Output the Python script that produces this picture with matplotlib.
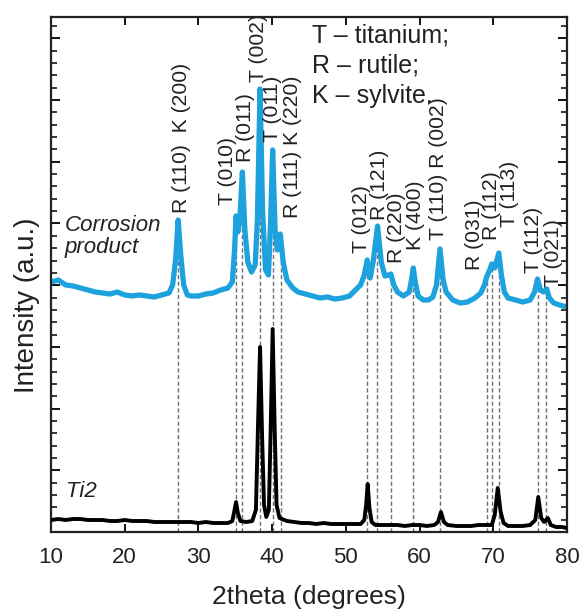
import numpy as np
import matplotlib
matplotlib.use("Agg")
import matplotlib.pyplot as plt
from matplotlib.ticker import MultipleLocator

plt.rcParams['font.family'] = ['Liberation Sans', 'DejaVu Sans']
plt.rcParams['lines.scale_dashes'] = False

# ---------------- data ----------------
blue_x = [10.0, 11.0, 12.0, 13.0, 14.0, 15.0, 16.0, 17.0, 18.0, 19.0, 20.0, 21.0, 22.0, 23.0, 24.0,
          25.0, 26.0, 26.5, 26.9, 27.25, 27.6, 28.0, 28.5, 29.0, 30.0, 31.0, 32.0, 33.0, 34.0,
          34.6, 34.9, 35.1, 35.35, 35.6, 35.96, 36.3, 36.7, 37.2, 37.7, 38.0, 38.36, 38.7, 39.1,
          39.5, 39.8, 40.07, 40.4, 40.7, 41.1, 41.5, 42.0, 42.8, 43.5, 44.5, 45.5, 46.5, 47.5,
          48.5, 49.5, 50.5, 51.3, 52.0, 52.5, 52.9, 53.3, 53.7, 54.3, 54.8, 55.3, 55.8, 56.1,
          56.5, 57.0, 57.8, 58.6, 58.9, 59.15, 59.4, 59.8, 60.5, 61.2, 61.8, 62.3, 62.77, 63.2,
          63.6, 64.5, 65.5, 66.5, 67.5, 68.3, 68.8, 69.1, 69.5, 69.8, 70.2, 70.75, 71.1, 71.5,
          72.0, 73.0, 74.0, 75.0, 75.6, 76.0, 76.4, 76.8, 77.25, 77.6, 78.2, 79.0, 80.0]
blue_y = [250, 252, 247, 246, 244, 242, 240, 239, 238, 240, 237, 236, 237, 236, 235,
          237, 239, 247, 272, 312, 277, 247, 237, 236, 236, 238, 239, 242, 244,
          250, 282, 316, 300, 310, 360, 302, 270, 260, 267, 312, 443, 322, 262,
          257, 312, 382, 302, 282, 298, 270, 252, 244, 240, 238, 236, 234, 235,
          233, 234, 236, 242, 247, 257, 272, 254, 270, 306, 270, 256, 257, 258,
          247, 240, 236, 240, 252, 264, 250, 236, 232, 232, 235, 247, 283, 252,
          240, 232, 229, 230, 234, 239, 247, 255, 262, 268, 264, 279, 257, 240,
          234, 232, 230, 232, 240, 253, 242, 240, 243, 234, 229, 227, 225]

black_x = [10, 11, 12, 13, 14, 15, 16, 17, 18, 19, 20, 21, 22, 23, 24, 25, 26, 27, 28, 29,
           30, 31, 32, 33, 34, 34.6, 34.9, 35.1, 35.35, 35.7, 36.5, 37.3, 37.8, 38.1, 38.36,
           38.65, 38.9, 39.2, 39.55, 39.8, 40.07, 40.35, 40.6, 41.0, 42, 43, 44, 45, 46, 47,
           48, 49, 50, 51, 52, 52.5, 52.75, 52.96, 53.2, 53.5, 54, 55, 56, 57, 58, 59, 60, 61,
           62, 62.5, 62.9, 63.3, 63.8, 65, 66, 67, 68, 69, 69.8, 70.2, 70.6, 71.0, 71.4, 72,
           73, 74, 75, 75.7, 76.1, 76.5, 76.9, 77.4, 77.8, 78.5, 79.3, 80]
black_y = [12, 13, 12, 13, 13, 12, 12, 12, 11, 11, 12, 11, 11, 11, 10, 10, 10, 10, 10, 10,
           9, 10, 9, 9, 9, 11, 22, 30, 19, 11, 10, 11, 22, 112, 185,
           92, 27, 15, 22, 102, 203, 102, 27, 14, 11, 10, 9, 9, 8, 9,
           8, 8, 8, 8, 8, 12, 27, 48, 24, 10, 7, 7, 7, 7, 6, 7, 7, 6,
           7, 10, 20, 10, 7, 6, 6, 6, 7, 7, 7, 17, 44, 20, 9, 6,
           6, 6, 7, 12, 35, 14, 10, 14, 7, 5, 5, 4]

peak_pos = [27.27, 35.1, 35.96, 38.36, 40.07, 41.2, 52.9, 54.27, 56.13, 59.15,
            62.77, 69.15, 69.83, 70.73, 76.0, 77.2]

peak_labels = ["R (110)  K (200)", "T (010)", "R (011)", "T (002)", "T (011)",
               "R (111) K (220)", "T (012)", "R (121)", "R (220)", "K (400)",
               "T (110) R (002)", "R (031)", "R (112)", "T (113)", "T (112)", "T (021)"]

legend_lines = ["T – titanium;", "R – rutile;", "K – sylvite."]

# ---------------- layout (annotation placement) ----------------
label_x = [27.7, 33.95, 36.45, 38.2, 40.1, 42.75, 52.15, 54.6, 56.85, 59.5,
           62.6, 67.5, 69.8, 72.2, 75.5, 78.15]
label_y = [319, 327, 370, 450, 390, 314, 279, 312, 269, 282,
           292, 262, 292, 305, 259, 245]

fig = plt.figure(figsize=(5.81, 6.09), dpi=100)
ax = fig.add_axes([51/581, 1-532/609, 516/581, 515/609])

# dashed reference lines
for p in peak_pos:
    top = np.interp(p, blue_x, blue_y)
    ax.plot([p, p], [0, top], color='#6f6f6f', lw=1.0, dashes=(3.0, 1.8), zorder=1)

ax.plot(black_x, black_y, color='black', lw=2.8, zorder=3, solid_joinstyle='round')
ax.plot(blue_x, blue_y, color='#1ea2dd', lw=3.8, zorder=2, solid_joinstyle='round')

for t, x, y in zip(peak_labels, label_x, label_y):
    ax.text(x, y, t, rotation=90, ha='center', va='bottom', fontsize=15.2, color='#222222')

legend_base = [489, 459, 429]
for t, y in zip(legend_lines, legend_base):
    ax.text(45.35, y, t, ha='left', va='baseline', fontsize=18, color='#222222')

ax.text(11.8, 301, "Corrosion", style='italic', fontsize=16, va='baseline', ha='left', color='#222222')
ax.text(11.8, 279, "product", style='italic', fontsize=16, va='baseline', ha='left', color='#222222')
ax.text(12.0, 35, "Ti2", style='italic', fontsize=16, va='baseline', ha='left', color='#222222')

ax.set_xlim(10, 80)
ax.set_ylim(0, 515)
ax.set_xticks([10, 20, 30, 40, 50, 60, 70, 80])
ax.yaxis.set_major_locator(MultipleLocator(61.7))
ax.yaxis.set_minor_locator(MultipleLocator(12.34))
ax.tick_params(axis='x', which='major', direction='in', top=True, bottom=True,
               length=6, width=1.3, labelsize=16, pad=11, labelcolor='#222222')
ax.tick_params(axis='y', which='major', direction='in', left=True, right=True,
               length=6.5, width=1.3, labelleft=False)
ax.tick_params(axis='y', which='minor', direction='in', left=True, right=True,
               length=4, width=1.1)
for s in ax.spines.values():
    s.set_linewidth(1.6)
    s.set_color('#222222')

fig.text(309/581, 5/609, "2theta (degrees)", ha='center', va='baseline', fontsize=19, color='#222222')
fig.text(27/581, 1-305/609, "Intensity (a.u.)", ha='center', va='center', rotation=90,
         fontsize=20, color='#222222')

fig.savefig("out.png", dpi=100)
